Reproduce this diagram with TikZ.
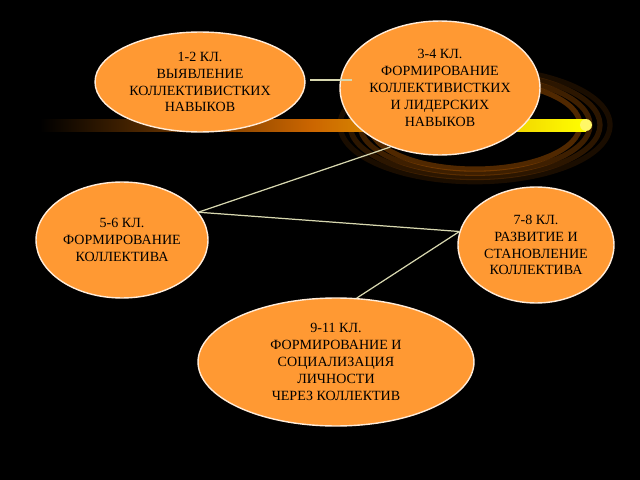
\documentclass[tikz,border=0pt]{standalone}
\usepackage{fontspec}
\setmainfont{Liberation Serif}
\usetikzlibrary{shapes.geometric}
\begin{document}
\begin{tikzpicture}[x=0.02cm,y=-0.02cm,
  oval/.style={ellipse,draw=white!85!orange,line width=0.8pt,fill={rgb,255:red,255;green,153;blue,51},
    inner sep=0pt,align=center,font=\fontsize{8}{9.6}\selectfont},
  conn/.style={draw={rgb,255:red,215;green,215;blue,175},line width=0.7pt}]
\fill[black] (0,0) rectangle (640,480);
% glow swirl
\foreach \r/\o in {135/0.15,125/0.25,115/0.35,105/0.45}{
  \draw[orange!70!black,line width=3pt,opacity=\o] (475,125) ellipse ({\r} and {\r*0.42});}
% glow bar
\shade[left color=black,right color=yellow,middle color=orange!80!black] (40,119) rectangle (586,131);
\fill[yellow!60!white] (586,125) ellipse (6 and 6);
\node[oval,minimum width=210\pgflinewidth,minimum width=4.2cm,minimum height=2.0cm] (a) at (200,82)
 {1-2 КЛ.\\ВЫЯВЛЕНИЕ\\КОЛЛЕКТИВИСТКИХ\\НАВЫКОВ};
\node[oval,minimum width=3.72cm,minimum height=2.68cm] (b) at (440,88)
 {3-4 КЛ.\\ФОРМИРОВАНИЕ\\КОЛЛЕКТИВИСТКИХ\\И ЛИДЕРСКИХ\\НАВЫКОВ};
\node[oval,minimum width=3.44cm,minimum height=2.32cm] (c) at (122,240)
 {5-6 КЛ.\\ФОРМИРОВАНИЕ\\КОЛЛЕКТИВА};
\node[oval,minimum width=3.12cm,minimum height=2.32cm] (d) at (536,245)
 {7-8 КЛ.\\РАЗВИТИЕ И\\СТАНОВЛЕНИЕ\\КОЛЛЕКТИВА};
\node[oval,minimum width=5.52cm,minimum height=2.56cm] (e) at (336,362)
 {9-11 КЛ.\\ФОРМИРОВАНИЕ И\\СОЦИАЛИЗАЦИЯ\\ЛИЧНОСТИ\\ЧЕРЕЗ КОЛЛЕКТИВ};
\coordinate (a1) at (310,80);
\coordinate (b1) at (352,80);
\draw[conn] (a1) -- (b1);
\draw[conn] (b.-130) -- (c.20);
\draw[conn] (c.20) -- (d.170);
\draw[conn] (d.170) -- (e.72);
\end{tikzpicture}
\end{document}
